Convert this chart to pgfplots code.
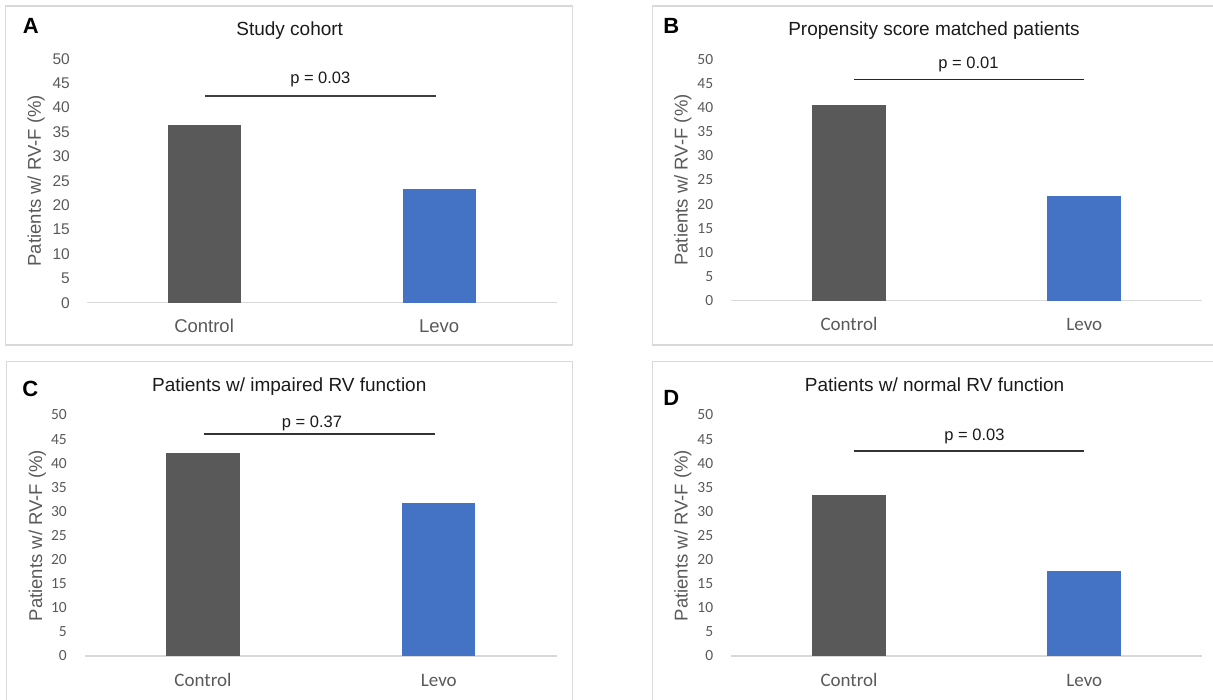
\documentclass[border=0pt]{standalone}
\usepackage{pgfplots}
\pgfplotsset{compat=1.18}
\usepackage{fontspec}
\setmainfont{Liberation Sans}
\newfontfamily\calibri{Carlito}
\definecolor{ctrl}{HTML}{595959}
\definecolor{levo}{HTML}{4472C4}
\definecolor{txtgray}{HTML}{595959}
\definecolor{boxgray}{HTML}{D9D9D9}
\definecolor{ttl}{HTML}{1A1A1A}
\newcommand{\fs}[1]{\fontsize{#1pt}{#1pt}\selectfont}

\pgfplotsset{
  panel/.style={
    scale only axis,
    ymin=0, ymax=50, xmin=-0.5, xmax=1.5,
    ytick={0,5,...,50}, xtick={0,1}, xticklabels={Control,Levo},
    axis lines*=left,
    axis line style={-},
    y axis line style={draw=none},
    x axis line style={draw=boxgray, line width=1.2pt},
    tick style={draw=none}, major tick length=0pt,
    /pgf/number format/assume math mode=true,
    ytick align=outside, xtick align=outside,
    ybar, bar width=0.31,
    every axis plot/.append style={bar shift=0pt, draw=none},
    ylabel={Patients w/ RV-F (\%)},
    ylabel style={anchor=center, font=\fs{18.5}, text=txtgray},
    clip=false,
  },
  arialticks/.style={
    yticklabel style={anchor=east, inner sep=0pt, xshift=-16.5pt, font=\fs{15.5}, text=txtgray},
    xticklabel style={anchor=base, inner sep=0pt, yshift=-29.8pt, font=\fs{18.5}, text=txtgray},
  },
  calibriticks/.style={
    yticklabel style={anchor=east, inner sep=0pt, xshift=-18pt, font=\calibri\fs{15.5}, text=txtgray},
    xticklabel style={anchor=base, inner sep=0pt, yshift=-30.3pt, font=\calibri\fs{19}, text=txtgray},
  },
}

\begin{document}
\begin{tikzpicture}[x=1pt,y=1pt]
\useasboundingbox (0,0) rectangle (1213,699);
% panel boxes
\draw[boxgray, line width=1.3pt] (5.7,693) rectangle (572.7,354);
\draw[boxgray, line width=1.3pt] (652.3,693) rectangle (1222,354);
\draw[boxgray, line width=1.3pt] (6.7,337.3) rectangle (572.7,-8);
\draw[boxgray, line width=1.3pt] (652.3,337.3) rectangle (1222,-8);

% A
\begin{axis}[panel, arialticks, at={(86.5pt,396.3pt)}, anchor=south west,
  width=470.3pt, height=244pt,
  ylabel style={at={(axis description cs:-0.107,0.5)}}]
\addplot[fill=ctrl] coordinates {(0,36.4)};
\addplot[fill=levo] coordinates {(1,23.2)};
\draw[black!75, line width=1.6pt] (axis cs:0.006,42.4) -- (axis cs:0.985,42.4);
\end{axis}

% B
\begin{axis}[panel, calibriticks, at={(731.4pt,398.3pt)}, anchor=south west,
  width=470.6pt, height=241.4pt, bar width=0.315,
  ylabel style={at={(axis description cs:-0.103,0.5)}}]
\addplot[fill=ctrl] coordinates {(0,40.6)};
\addplot[fill=levo] coordinates {(1,21.6)};
\draw[black!85, line width=1.6pt] (axis cs:0.02,45.8) -- (axis cs:0.998,45.8);
\end{axis}

% C
\begin{axis}[panel, calibriticks, at={(85pt,43pt)}, anchor=south west,
  width=471.8pt, height=241pt,
  ylabel style={at={(axis description cs:-0.101,0.5)}}]
\addplot[fill=ctrl] coordinates {(0,42.2)};
\addplot[fill=levo] coordinates {(1,31.7)};
\draw[black!80, line width=1.6pt] (axis cs:0.006,46.1) -- (axis cs:0.985,46.1);
\end{axis}

% D
\begin{axis}[panel, calibriticks, at={(731.4pt,43pt)}, anchor=south west,
  width=470.6pt, height=241pt, bar width=0.315,
  ylabel style={at={(axis description cs:-0.103,0.5)}}]
\addplot[fill=ctrl] coordinates {(0,33.3)};
\addplot[fill=levo] coordinates {(1,17.6)};
\draw[black!80, line width=1.6pt] (axis cs:0.02,42.5) -- (axis cs:0.998,42.5);
\end{axis}

% panel letters
\node[anchor=base, inner sep=0pt, font=\bfseries\fs{22}] at (30.8,699-33.3) {A};
\node[anchor=base, inner sep=0pt, font=\bfseries\fs{22}] at (671.3,699-33.3) {B};
\node[anchor=base, inner sep=0pt, font=\bfseries\fs{22}] at (30.4,699-396.7) {C};
\node[anchor=base, inner sep=0pt, font=\bfseries\fs{22}] at (671.3,699-406) {D};

% titles
\node[anchor=base, inner sep=0pt, font=\fs{19}, text=ttl] at (289.7,699-36) {Study cohort};
\node[anchor=base, inner sep=0pt, font=\fs{19}, text=ttl] at (934,699-35.5) {Propensity score matched patients};
\node[anchor=base, inner sep=0pt, font=\fs{19}, text=ttl] at (289.3,699-391.7) {Patients w/ impaired RV function};
\node[anchor=base, inner sep=0pt, font=\fs{19}, text=ttl] at (934.6,699-391.7) {Patients w/ normal RV function};

% p values
\node[anchor=base, inner sep=0pt, font=\fs{16.5}, text=ttl] at (320.3,699-83.3) {p = 0.03};
\node[anchor=base, inner sep=0pt, font=\fs{16.5}, text=ttl] at (968.5,699-68.3) {p = 0.01};
\node[anchor=base, inner sep=0pt, font=\fs{16.5}, text=ttl] at (312,699-427.3) {p = 0.37};
\node[anchor=base, inner sep=0pt, font=\fs{16.5}, text=ttl] at (974.5,699-440.7) {p = 0.03};
\end{tikzpicture}
\end{document}
